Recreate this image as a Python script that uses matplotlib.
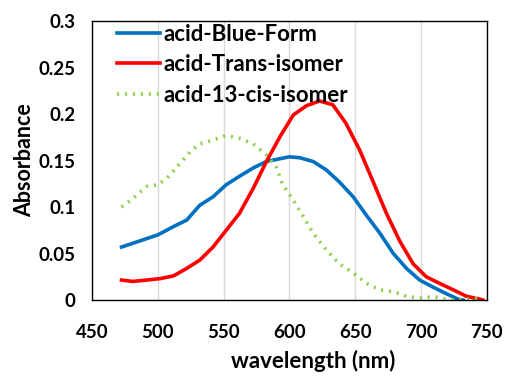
import numpy as np
import matplotlib.pyplot as plt

plt.rcParams['font.family'] = ['Lato', 'DejaVu Sans']

# wavelength (nm) / absorbance
blue_wl = [472.5, 481, 491.5, 500, 512, 522, 532, 542, 552, 562, 572.5, 582.5,
           593, 600, 608, 618, 628, 638, 648.5, 658.6, 668.7, 679, 689, 699,
           709, 719, 728, 732]
blue_abs = [0.057, 0.061, 0.066, 0.070, 0.079, 0.086, 0.102, 0.111, 0.124, 0.133,
            0.142, 0.149, 0.152, 0.154, 0.153, 0.149, 0.140, 0.127, 0.111, 0.091,
            0.072, 0.050, 0.034, 0.0215, 0.014, 0.007, 0.001, 0.0]

red_wl = [472.5, 481, 491.5, 501.6, 512, 522, 532, 542, 552, 562, 572.5, 582.6,
          593, 603, 613, 623, 633, 643, 653.5, 663.7, 673.8, 684, 694, 704,
          714, 724.5, 734.6, 744.7, 747]
red_abs = [0.0215, 0.020, 0.0215, 0.023, 0.026, 0.034, 0.043, 0.057, 0.075, 0.093,
           0.120, 0.149, 0.176, 0.199, 0.209, 0.214, 0.210, 0.190, 0.161, 0.127,
           0.093, 0.063, 0.039, 0.025, 0.018, 0.011, 0.004, 0.001, 0.0]

green_wl = [472.5, 481, 491.5, 500, 507, 517, 524.4, 532, 542, 552, 562, 572.5,
            582.6, 590, 595, 603, 610.5, 618, 628, 638, 648.5, 658.6, 668.7, 679,
            689, 699, 709, 719, 729, 744.7]
green_abs = [0.100, 0.109, 0.122, 0.124, 0.131, 0.147, 0.159, 0.168, 0.172, 0.177,
             0.174, 0.168, 0.156, 0.143, 0.124, 0.1075, 0.090, 0.072, 0.054, 0.039,
             0.029, 0.018, 0.011, 0.009, 0.004, 0.002, 0.0036, 0.001, 0.0, 0.002]

fig = plt.figure(figsize=(5.05, 3.76), dpi=100)
ax = fig.add_axes([0.182, 0.202, 0.782, 0.742])

ax.plot(blue_wl, blue_abs, color='#0070C0', linewidth=2.6, label='acid-Blue-Form')
ax.plot(red_wl, red_abs, color='#FF0000', linewidth=2.6, label='acid-Trans-isomer')
ax.plot(green_wl, green_abs, color='#92D050', linewidth=2.6, linestyle=(0, (0.6, 1.6)),
        label='acid-13-cis-isomer')

ax.set_xlim(450, 750)
ax.set_ylim(0, 0.3)
ax.set_xticks(np.arange(450, 751, 50))
ax.set_yticks([0, 0.05, 0.1, 0.15, 0.2, 0.25, 0.3])
ax.set_yticklabels(['0', '0.05', '0.1', '0.15', '0.2', '0.25', '0.3'])
ax.tick_params(axis='y', length=0, labelsize=13.5, pad=12)
ax.tick_params(axis='x', length=0, labelsize=13.5, pad=17)
for lbl in ax.get_xticklabels() + ax.get_yticklabels():
    lbl.set_fontweight('bold')

ax.grid(axis='x', color='#D9D9D9', linewidth=1)
ax.set_axisbelow(True)
for s in ax.spines.values():
    s.set_linewidth(1.0)
    s.set_color('black')

ax.set_xlabel('wavelength (nm)', fontsize=16, fontweight='bold')
ax.xaxis.set_label_coords(0.56, -0.18)
ax.set_ylabel('Absorbance', fontsize=15.5, fontweight='bold')
ax.yaxis.set_label_coords(-0.145, 0.5)

leg = ax.legend(loc='upper left', frameon=False, fontsize=16, handlelength=1.95,
                handletextpad=0.15, borderaxespad=0, borderpad=0, labelspacing=0.42,
                bbox_to_anchor=(0.063, 0.99))
for t in leg.get_texts():
    t.set_fontweight('bold')

fig.savefig('out.png', dpi=100)
